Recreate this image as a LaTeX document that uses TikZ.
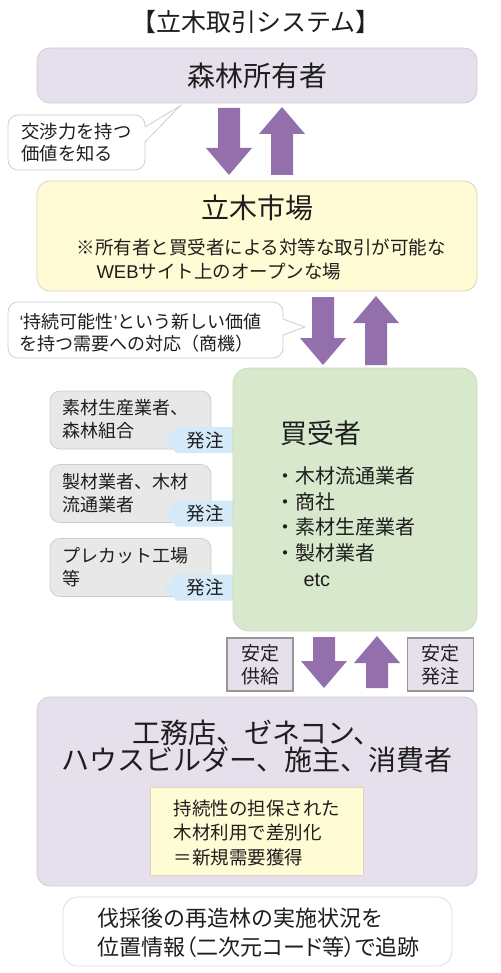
\documentclass[tikz,border=0pt]{standalone}
\usepackage{fontspec}
\setmainfont{Noto Sans CJK JP}
\newfontfamily\latinsans{Liberation Sans}
\usepackage{xcolor}
\definecolor{lavender}{RGB}{230,224,237}
\definecolor{lavline}{RGB}{208,202,216}
\definecolor{cream}{RGB}{255,251,212}
\definecolor{creamline}{RGB}{218,215,190}
\definecolor{sage}{RGB}{216,232,205}
\definecolor{sageline}{RGB}{200,218,190}
\definecolor{greybox}{RGB}{232,232,232}
\definecolor{greyline}{RGB}{206,206,206}
\definecolor{skyblue}{RGB}{213,234,248}
\definecolor{arrowpurple}{RGB}{147,112,172}
\definecolor{stableline}{RGB}{150,150,150}
\definecolor{ink}{RGB}{30,30,30}
\newcommand\fsz[2]{\fontsize{#1}{#2}\selectfont}

\begin{document}
\begin{tikzpicture}[x=1pt, y=-1pt, text=ink,
    panel/.style={rounded corners=13pt, line width=0.8pt, inner sep=0pt},
    bubble/.style={rounded corners=10pt, draw=greyline, fill=white, line width=0.8pt, inner sep=0pt},
    supbox/.style={rounded corners=10pt, draw=greyline, fill=greybox, line width=0.8pt,
        minimum width=161pt, minimum height=58pt, inner sep=0pt},
    stable/.style={draw=stableline, fill=lavender, line width=1.2pt, align=center,
        minimum width=66pt, minimum height=53pt, inner sep=0pt, font=\fsz{19}{23}}]
    \useasboundingbox (0,0) rectangle (500,973);

    % title
    \node[font=\fsz{25}{25}] (title) at (256,22) {【立木取引システム】};

    % forest owner
    \node[panel, fill=lavender, draw=lavline, minimum width=440pt, minimum height=55pt,
        font=\fsz{28}{28}] (owner) at (257,75.5) {森林所有者};

    % hint bubble 1
    \node[bubble, minimum width=137pt, minimum height=55pt, align=left,
        font=\fsz{18.3}{22}] (hint1) at (76.5,142.5) {交渉力を持つ\\価値を知る};
    \fill[white] (144,127) -- (180,106) -- (144,142) -- cycle;
    \draw[greyline, line width=0.8pt] (145,127) -- (180,106) -- (145,142);

    % standing timber market
    \node[panel, fill=cream, draw=creamline, minimum width=440pt, minimum height=110pt] (market) at (257,236) {};
    \node[font=\fsz{28}{28}] (markettitle) at (257,208) {立木市場};
    \node[anchor=west, font=\fsz{18.5}{18.5}] (marketnote1) at (73,247) {※所有者と買受者による対等な取引が可能な};
    \node[anchor=west, font=\fsz{18.5}{18.5}] (marketnote2) at (93,272) {{\latinsans WEB}サイト上のオープンな場};

    % hint bubble 2
    \node[bubble, minimum width=275pt, minimum height=56pt] (hint2) at (145.5,330) {};
    \node[anchor=west, align=left, font=\fsz{18}{21.7}] (hint2text) at (16,332.5)
        {{\latinsans ‘}持続可能性{\latinsans ’}という新しい価値\\を持つ需要への対応（商機）};
    \fill[white] (282,319) -- (305,327) -- (282,335) -- cycle;
    \draw[greyline, line width=0.8pt] (283,319) -- (305,327) -- (283,335);

    % block arrows, down and up
    \foreach \xd/\ytop/\ybot in {229/108/175, 323/297/365, 324/637/688} {
        \fill[arrowpurple] (\xd-11,\ytop) -- (\xd+11,\ytop) -- (\xd+11,\ybot-27) -- (\xd+23,\ybot-27)
            -- (\xd,\ybot) -- (\xd-23,\ybot-27) -- (\xd-11,\ybot-27) -- cycle;
        \fill[arrowpurple] (\xd+53-11,\ybot) -- (\xd+53+11,\ybot) -- (\xd+53+11,\ytop+26) -- (\xd+53+23,\ytop+26)
            -- (\xd+53,\ytop-1) -- (\xd+53-23,\ytop+26) -- (\xd+53-11,\ytop+26) -- cycle;
    }

    % suppliers and orders
    \foreach \yc/\who [count=\i] in {420/{素材生産業者、\\森林組合}, 493.5/{製材業者、木材\\流通業者}, 567.5/{プレカット工場\\等}} {
        \node[supbox] (sup\i) at (130.5,\yc) {};
        \node[anchor=west, align=left, font=\fsz{18}{23}] (suptext\i) at (59,\yc-0.5) {\who};
        \fill[skyblue] (234,\yc+7) -- (176,\yc+7) -- (165,\yc+20) -- (176,\yc+33) -- (234,\yc+33) -- cycle;
        \node[font=\fsz{18.5}{18.5}] (order\i) at (205,\yc+20) {発注};
    }

    % buyers
    \node[panel, rounded corners=16pt, fill=sage, draw=sageline, minimum width=244pt, minimum height=263pt] (buyer) at (355,499.5) {};
    \node[font=\fsz{27}{27}] (buyertitle) at (321,433) {買受者};
    \node[anchor=west, align=left, font=\fsz{20}{25.6}] (buyerlist) at (272,526.5)
        {・木材流通業者\\・商社\\・素材生産業者\\・製材業者\\\hspace*{28pt}{\latinsans etc}};

    % stable supply / order
    \node[stable] (supply) at (260,664.5) {安定\\供給};
    \node[stable] (stableorder) at (440.5,664.5) {安定\\発注};

    % clients
    \node[panel, fill=lavender, draw=lavline, minimum width=440pt, minimum height=189pt] (clients) at (257,791.5) {};
    \node[align=center, font=\fsz{28}{27}] (clienttext) at (257,746.5) {工務店、ゼネコン、\\ハウスビルダー、施主、消費者};
    \node[draw=creamline, fill=cream, line width=0.8pt, minimum width=213pt, minimum height=88pt] (merit) at (256.5,831) {};
    \node[anchor=west, align=left, font=\fsz{18.5}{24.5}] (merittext) at (170,832.5) {持続性の担保された\\木材利用で差別化\\＝新規需要獲得};

    % tracking
    \node[panel, rounded corners=15pt, fill=white, draw=greyline!70, minimum width=389pt, minimum height=69pt] (tracking) at (257.5,931.5) {};
    \node[anchor=west, align=left, font=\fsz{22}{29}] (trackingtext) at (94,932.5)
        {伐採後の再造林の実施状況を\\{\addfontfeature{RawFeature=+palt}位置情報（二次元コード等）で追跡}};
\end{tikzpicture}
\end{document}
